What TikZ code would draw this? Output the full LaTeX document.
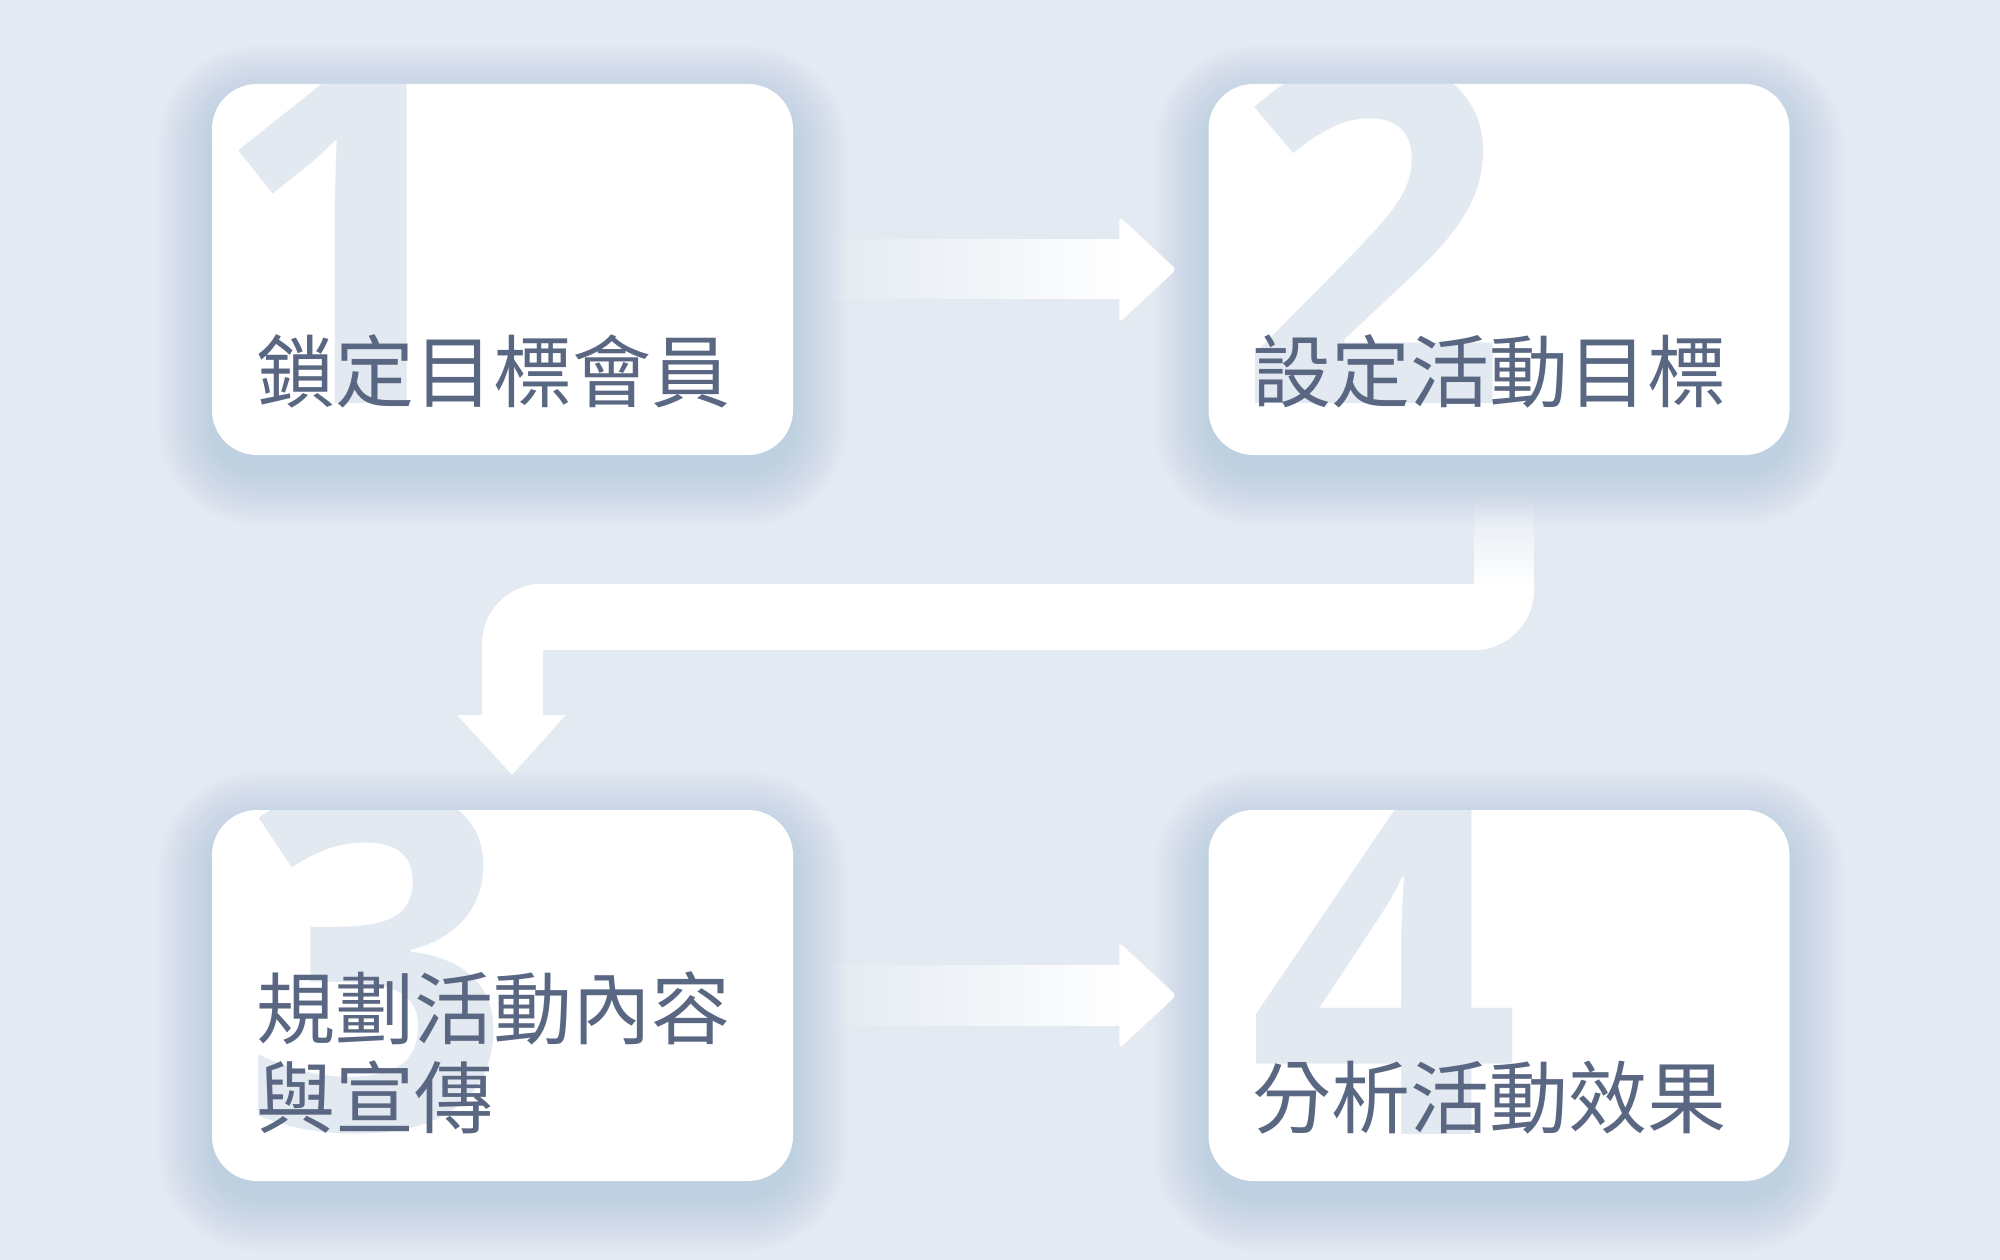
\documentclass[tikz,border=0pt]{standalone}
\usepackage{fontspec}
\newfontfamily\cjk{Noto Sans CJK TC}
\newfontfamily\numfont{Open Sans}
\usetikzlibrary{calc,fadings}
\definecolor{bg}{HTML}{E3EAF2}
\definecolor{shadowc}{HTML}{8FB2D8}
\definecolor{numc}{HTML}{E2E9F1}
\definecolor{txtc}{HTML}{5A6782}
\tikzfading[name=fadeleft, left color=transparent!100, right color=transparent!0]
\tikzfading[name=fadetop, top color=transparent!100, bottom color=transparent!0]
\pgfdeclarelayer{bgl}
\pgfdeclarelayer{back}
\pgfsetlayers{bgl,back,main}
\begin{document}
\begin{tikzpicture}[x=1pt,y=-1pt,
  box/.style={fill=white, rounded corners=45pt, minimum width=581pt, minimum height=371pt, inner sep=0pt},
  lbl/.style={text=txtc, font=\cjk\fontsize{79}{89}\selectfont, inner sep=0pt},
  bignum/.style={text=numc, font=\numfont\bfseries\fontsize{476}{476}\selectfont, inner sep=0pt, anchor=base west},
  arrowfill/.style={fill=white}]
\begin{pgfonlayer}{bgl}
\fill[bg] (0,0) rectangle (2000,1260);
\end{pgfonlayer}
\useasboundingbox (0,0) rectangle (2000,1260);

\node[box] (b1) at (502.5,269.5) {};
\node[box] (b2) at (1499,269.5) {};
\node[box] (b3) at (502.5,995.5) {};
\node[box] (b4) at (1499,995.5) {};

% shadows
\begin{pgfonlayer}{back}
\foreach \b in {b1,b2,b3,b4}{
  \foreach \e [evaluate=\e as \r using 45+\e] in {3,6,...,54}{
    \fill[shadowc, opacity=0.022, rounded corners=\r pt]
      ($(\b.north west)+(-\e,-\e+16)$) rectangle ($(\b.south east)+(\e,\e+16)$);
  }
}
\end{pgfonlayer}

% big numbers clipped to boxes
\begin{scope}
\clip[rounded corners=45pt] (b1.north west) rectangle (b1.south east);
\node[bignum] (n1) at ($(b1.north west)+(-2,320)$) {1};
\end{scope}
\begin{scope}
\clip[rounded corners=45pt] (b2.north west) rectangle (b2.south east);
\node[bignum] (n2) at ($(b2.north west)+(28,320)$) {2};
\end{scope}
\begin{scope}
\clip[rounded corners=45pt] (b3.north west) rectangle (b3.south east);
\node[bignum] (n3) at ($(b3.north west)+(28,320)$) {3};
\end{scope}
\begin{scope}
\clip[rounded corners=45pt] (b4.north west) rectangle (b4.south east);
\node[bignum] (n4) at ($(b4.north west)+(40,325)$) {4};
\end{scope}

% labels
\node[lbl, anchor=base west] (t1) at ($(b1.north west)+(44,318)$) {鎖定目標會員};
\node[lbl, anchor=base west] (t2) at ($(b2.north west)+(44,318)$) {設定活動目標};
\node[lbl, anchor=base west] (t3a) at ($(b3.north west)+(44,229)$) {規劃活動內容};
\node[lbl, anchor=base west] (t3b) at ($(b3.north west)+(44,318)$) {與宣傳};
\node[lbl, anchor=base west] (t4) at ($(b4.north west)+(44,318)$) {分析活動效果};

% arrow 1 -> 2
\coordinate (a1s) at ($(b1.east)+(23,0)$);
\coordinate (a1e) at ($(b2.west)+(-32,0)$);
\fill[white, path fading=fadeleft] ($(a1s)+(0,-30)$) rectangle ($(a1e)+(-56,30)$);
\fill[arrowfill, rounded corners=4pt] ($(a1e)+(-57,-53)$) -- (a1e) -- ($(a1e)+(-57,53)$) -- cycle;

% arrow 3 -> 4
\coordinate (a2s) at ($(b3.east)+(23,0)$);
\coordinate (a2e) at ($(b4.west)+(-32,0)$);
\fill[white, path fading=fadeleft] ($(a2s)+(0,-30)$) rectangle ($(a2e)+(-56,30)$);
\fill[arrowfill, rounded corners=4pt] ($(a2e)+(-57,-53)$) -- (a2e) -- ($(a2e)+(-57,53)$) -- cycle;

% bent arrow 2 -> 3
\fill[white, path fading=fadetop] ($(b2.south)+(-25,45)$) rectangle ($(b2.south)+(35,130)$);
\fill[arrowfill]
  ($(b2.south)+(-25,129)$) -- ($(b3.north)+(39.5,-226)$)
  .. controls ($(b3.north)+(6.5,-226)$) and ($(b3.north)+(-20.5,-199)$) .. ($(b3.north)+(-20.5,-166)$)
  -- ($(b3.north)+(-20.5,-95)$) -- ($(b3.north)+(-45.5,-95)$)
  -- ($(b3.north)+(9.5,-35)$)
  -- ($(b3.north)+(63.5,-95)$) -- ($(b3.north)+(40.5,-95)$)
  -- ($(b3.north)+(40.5,-160)$) -- ($(b2.south)+(-25,195)$)
  .. controls ($(b2.south)+(8,195)$) and ($(b2.south)+(35,168)$) .. ($(b2.south)+(35,135)$)
  -- ($(b2.south)+(35,129)$) -- cycle;
\end{tikzpicture}
\end{document}
